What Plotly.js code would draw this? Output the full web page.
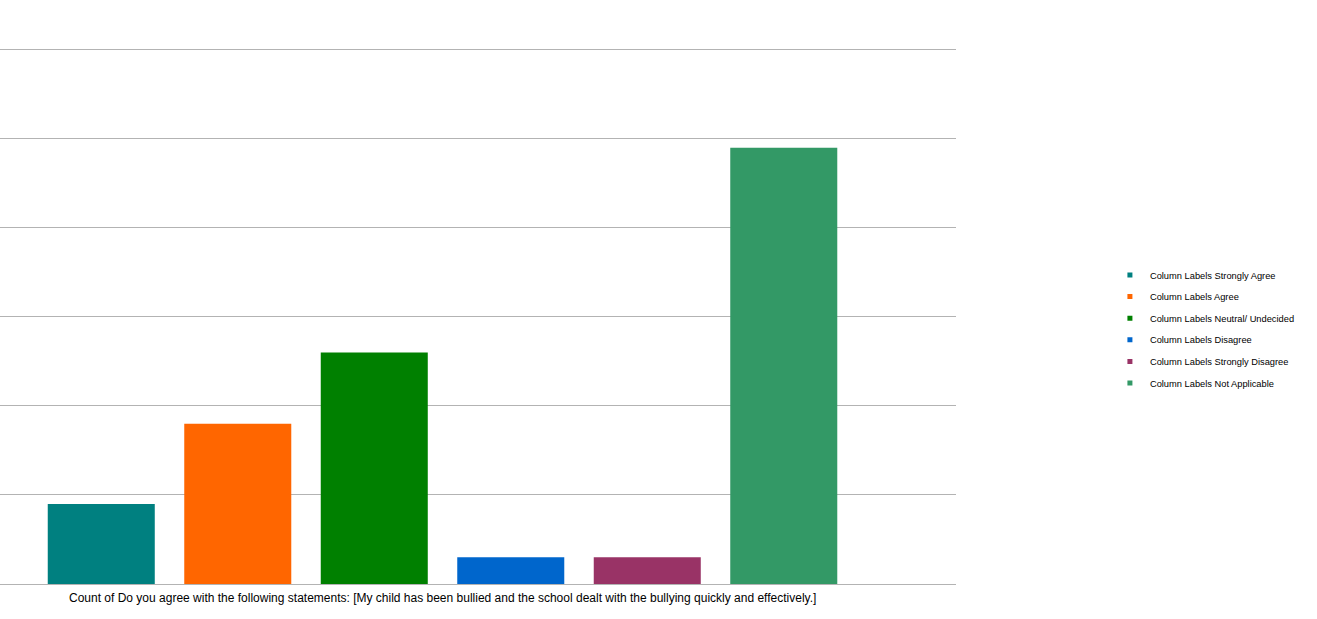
<!DOCTYPE html>
<html>
<head>
<meta charset="utf-8">
<script src="https://cdn.plot.ly/plotly-3.0.1.min.js"></script>
<style>html,body{margin:0;padding:0;background:#fff;}#chart{width:1317px;height:619px;}</style>
</head>
<body>
<div id="chart"></div>
<script>
var category = ["Count of Do you agree with the following statements: [My child has been bullied and the school dealt with the bullying quickly and effectively.]"];
var seriesNames = ["Column Labels Strongly Agree","Column Labels Agree","Column Labels Neutral/ Undecided","Column Labels Disagree","Column Labels Strongly Disagree","Column Labels Not Applicable"];
var seriesValues = [9, 18, 26, 3, 3, 49];
var seriesColors = ["#008080","#ff6600","#008000","#0066cc","#993366","#339966"];

var traces = seriesNames.map(function(n,i){
  return {type:'bar', name:n, x:[0], y:[seriesValues[i]],
    marker:{color:seriesColors[i], line:{width:0}},
    legendgroup:'g'+i, showlegend:false, hoverinfo:'y'};
});
// legend entries with small square swatches
seriesNames.forEach(function(n,i){
  traces.push({type:'scatter', mode:'markers', name:n, x:[null], y:[null],
    marker:{symbol:'square', size:5, color:seriesColors[i]},
    legendgroup:'g'+i, showlegend:true, hoverinfo:'skip'});
});

var layout = {
  width:1317, height:619,
  margin:{l:0, r:361, t:41, b:35, pad:0},
  paper_bgcolor:'#fff', plot_bgcolor:'#fff',
  font:{family:'Liberation Sans, Arial, sans-serif', color:'#000'},
  barmode:'group', bargap:0.0746, bargroupgap:0.216,
  showlegend:true,
  legend:{x:1.161, xanchor:'left', y:0.4696, yanchor:'middle', font:{size:9.3, color:'#000'},
    traceorder:'grouped', tracegroupgap:2.6, bgcolor:'rgba(0,0,0,0)', itemwidth:30, itemsizing:'trace'},
  xaxis:{type:'linear', range:[-0.5,0.5802], showticklabels:false, ticks:'', showgrid:false, zeroline:false,
    showline:true, linecolor:'#b3b3b3', linewidth:1},
  yaxis:{range:[0,61], tickvals:[0,10,20,30,40,50,60], showticklabels:false, ticks:'', showgrid:true, gridcolor:'#b3b3b3', gridwidth:1,
    zeroline:false, showline:false},
  annotations:[{text:category[0], xref:'x', x:0, yref:'paper', y:0, yshift:-14, yanchor:'middle',
    showarrow:false, font:{size:12, color:'#000'}}]
};
Plotly.newPlot('chart', traces, layout, {displayModeBar:false, staticPlot:true});
</script>
</body>
</html>
